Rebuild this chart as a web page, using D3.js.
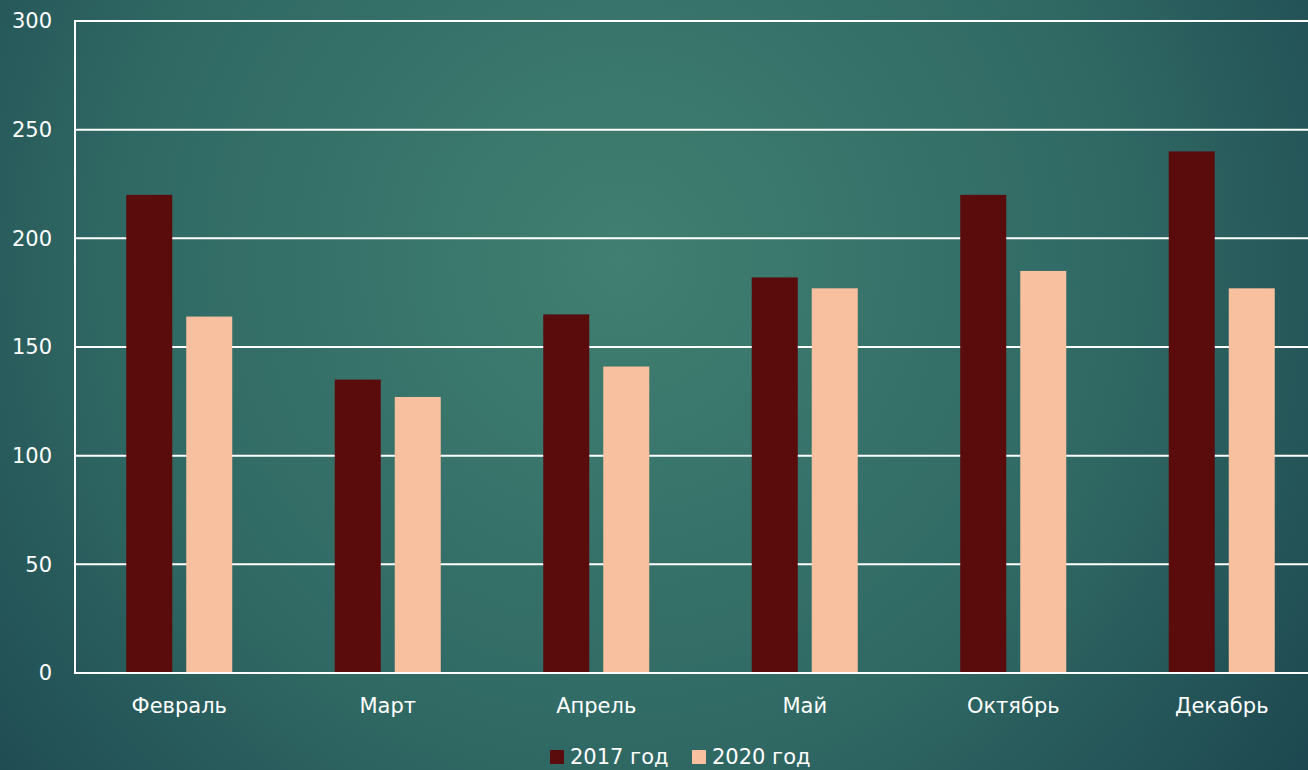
<!DOCTYPE html>
<html>
<head lang="ru">
  <meta charset="UTF-8">
  <title>2017 / 2020</title>
</head>
<style>
  body { margin: 0; overflow: hidden; }
  #chart text { fill: #ffffff; font-family: "Century Gothic", "DejaVu Sans", sans-serif; }
</style>
<body>

<svg id="chart" width="1308" height="770"></svg>

<script src="https://cdn.jsdelivr.net/npm/d3@7"></script>
<script>
  // Data
  var months = ['Февраль', 'Март', 'Апрель', 'Май', 'Октябрь', 'Декабрь'];
  var seriesNames = ['2017 год', '2020 год'];
  var values2017 = [220, 135, 165, 182, 220, 240];
  var values2020 = [164, 127, 141, 177, 185, 177];
  var yTicks = [0, 50, 100, 150, 200, 250, 300];
  var colors = ['#5a0b0b', '#f9c09f'];

  var width = 1308, height = 770;
  var plotLeft = 75, plotTop = 21, plotBottom = 673, plotRight = 1326;

  var svg = d3.select('#chart');

  // background gradient
  var grad = svg.append('defs').append('radialGradient')
    .attr('id', 'bg')
    .attr('gradientUnits', 'userSpaceOnUse')
    .attr('cx', 620).attr('cy', 260).attr('r', 900);
  grad.append('stop').attr('offset', '0%').attr('stop-color', '#407f71');
  grad.append('stop').attr('offset', '55%').attr('stop-color', '#306964');
  grad.append('stop').attr('offset', '100%').attr('stop-color', '#1a434e');

  svg.append('rect')
    .attr('width', width).attr('height', height)
    .attr('fill', 'url(#bg)');

  var x = d3.scaleBand().domain(months).range([plotLeft, plotRight]);
  var y = d3.scaleLinear().domain([0, 300]).range([plotBottom, plotTop]);

  var barW = 46, gap = 14;
  var pad = (x.bandwidth() - 2 * barW - gap) / 2;

  // gridlines
  svg.append('g')
    .selectAll('line')
    .data(yTicks)
    .enter().append('line')
    .attr('x1', plotLeft).attr('x2', width)
    .attr('y1', function (d) { return y(d); })
    .attr('y2', function (d) { return y(d); })
    .attr('stroke', '#ffffff').attr('stroke-width', 2);

  // bars
  var series = [values2017, values2020];
  series.forEach(function (vals, s) {
    svg.append('g')
      .selectAll('rect')
      .data(vals)
      .enter().append('rect')
      .attr('x', function (d, i) { return x(months[i]) + pad + s * (barW + gap); })
      .attr('y', function (d) { return y(d); })
      .attr('width', barW)
      .attr('height', function (d) { return plotBottom - y(d); })
      .attr('fill', colors[s]);
  });

  // axis lines
  svg.append('line')
    .attr('x1', plotLeft).attr('x2', plotLeft)
    .attr('y1', plotTop - 1).attr('y2', plotBottom + 1)
    .attr('stroke', '#ffffff').attr('stroke-width', 2);
  svg.append('line')
    .attr('x1', plotLeft).attr('x2', width)
    .attr('y1', plotBottom).attr('y2', plotBottom)
    .attr('stroke', '#ffffff').attr('stroke-width', 2);

  // y labels
  svg.append('g')
    .selectAll('text')
    .data(yTicks)
    .enter().append('text')
    .attr('x', 52)
    .attr('y', function (d) { return y(d); })
    .attr('dy', '0.35em')
    .attr('text-anchor', 'end')
    .style('font-size', '21px')
    .text(function (d) { return d; });

  // x labels
  svg.append('g')
    .selectAll('text')
    .data(months)
    .enter().append('text')
    .attr('x', function (d) { return x(d) + pad + barW + gap / 2; })
    .attr('y', 706)
    .attr('dy', '0.35em')
    .attr('text-anchor', 'middle')
    .style('font-size', '21px')
    .text(function (d) { return d; });

  // legend
  var legendX = [550, 692];
  var legend = svg.append('g')
    .selectAll('g')
    .data(seriesNames)
    .enter().append('g')
    .attr('transform', function (d, i) { return 'translate(' + legendX[i] + ',757)'; });
  legend.append('rect')
    .attr('x', 0).attr('y', -7)
    .attr('width', 14).attr('height', 14)
    .attr('fill', function (d, i) { return colors[i]; });
  legend.append('text')
    .attr('x', 20).attr('y', 0)
    .attr('dy', '0.35em')
    .style('font-size', '21px')
    .text(function (d) { return d; });
</script>
</body>
</html>
